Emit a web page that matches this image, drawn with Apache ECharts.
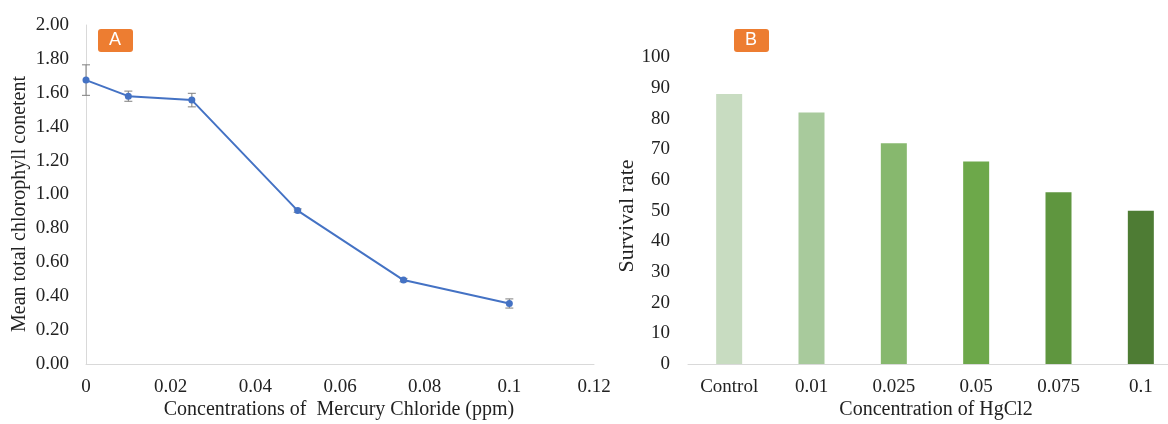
<!DOCTYPE html>
<html>
<head>
<meta charset="utf-8">
<script src="https://cdn.jsdelivr.net/npm/echarts@6/dist/echarts.min.js"></script>
<style>html,body{margin:0;padding:0;background:#fff}#c{width:1168px;height:424px}</style>
</head>
<body>
<div id="c"></div>
<script>
// Panel A
var concA = [0, 0.01, 0.025, 0.05, 0.075, 0.1];
var chlorophyll = [1.675, 1.58, 1.557, 0.905, 0.495, 0.357];
var chlorErr = [0.09, 0.03, 0.04, 0.01, 0.01, 0.027];
// Panel B
var categoriesB = ['Control', '0.01', '0.025', '0.05', '0.075', '0.1'];
var survival = [88, 82, 72, 66, 56, 50];
var barColors = ['#C8DCC1', '#A8CA9C', '#87B86E', '#6DA84A', '#5F963F', '#4E7C34'];

var serif = '"Liberation Serif","Times New Roman",serif';
var chart = echarts.init(document.getElementById('c'));
var lineData = concA.map(function (x, i) { return [x, chlorophyll[i]]; });
var errData = concA.map(function (x, i) { return [x, chlorophyll[i] - chlorErr[i], chlorophyll[i] + chlorErr[i]]; });

chart.setOption({
  animation: false,
  grid: [
    { left: 86, top: 25, width: 508, height: 339, outerBoundsMode: 'none', containLabel: false },
    { left: 688, top: 57.3, width: 494, height: 306.7, outerBoundsMode: 'none', containLabel: false }
  ],
  xAxis: [
    {
      gridIndex: 0, type: 'value', min: 0, max: 0.12, interval: 0.02,
      splitLine: { show: false },
      axisLine: { show: true, lineStyle: { color: '#d9d9d9', width: 1 } },
      axisTick: { show: false },
      axisLabel: { color: '#222', fontFamily: serif, fontSize: 19, margin: 14,
        formatter: function (v) { return +v.toFixed(3) + ''; } }
    },
    {
      gridIndex: 1, type: 'category', data: categoriesB,
      axisLine: { show: true, lineStyle: { color: '#d9d9d9', width: 1 } },
      axisTick: { show: false },
      axisLabel: { color: '#222', fontFamily: serif, fontSize: 19, margin: 14 }
    }
  ],
  yAxis: [
    {
      gridIndex: 0, type: 'value', min: 0, max: 2, interval: 0.2,
      splitLine: { show: false },
      axisLine: { show: true, lineStyle: { color: '#d9d9d9', width: 1 } },
      axisTick: { show: false },
      axisLabel: { color: '#222', fontFamily: serif, fontSize: 19, margin: 17,
        formatter: function (v) { return v.toFixed(2); } }
    },
    {
      gridIndex: 1, type: 'value', min: 0, max: 100, interval: 10,
      splitLine: { show: false },
      axisLine: { show: false },
      axisTick: { show: false },
      axisLabel: { color: '#222', fontFamily: serif, fontSize: 19, margin: 18 }
    }
  ],
  series: [
    {
      type: 'custom', xAxisIndex: 0, yAxisIndex: 0, data: errData, z: 1,
      renderItem: function (params, api) {
        var x = api.value(0);
        var lo = api.coord([x, api.value(1)]);
        var hi = api.coord([x, api.value(2)]);
        var w = 4;
        var st = { stroke: '#7f7f7f', lineWidth: 1 };
        return { type: 'group', children: [
          { type: 'line', shape: { x1: lo[0], y1: lo[1], x2: hi[0], y2: hi[1] }, style: st },
          { type: 'line', shape: { x1: lo[0] - w, y1: lo[1], x2: lo[0] + w, y2: lo[1] }, style: st },
          { type: 'line', shape: { x1: hi[0] - w, y1: hi[1], x2: hi[0] + w, y2: hi[1] }, style: st }
        ] };
      }
    },
    {
      type: 'line', xAxisIndex: 0, yAxisIndex: 0, data: lineData, z: 2,
      symbol: 'circle', symbolSize: 7,
      lineStyle: { color: '#4472C4', width: 2 },
      itemStyle: { color: '#4472C4' }
    },
    {
      type: 'bar', xAxisIndex: 1, yAxisIndex: 1, barWidth: 26,
      data: survival.map(function (v, i) { return { value: v, itemStyle: { color: barColors[i] } }; })
    }
  ],
  graphic: [
    { type: 'rect', left: 98, top: 29, shape: { width: 35, height: 23, r: 3 }, style: { fill: '#ED7D31' } },
    { type: 'text', left: 109, top: 31, style: { text: 'A', fill: '#fff', font: '18px "Liberation Sans", Arial, sans-serif' } },
    { type: 'rect', left: 734, top: 29, shape: { width: 35, height: 23, r: 3 }, style: { fill: '#ED7D31' } },
    { type: 'text', left: 745, top: 31, style: { text: 'B', fill: '#fff', font: '18px "Liberation Sans", Arial, sans-serif' } },
    { type: 'text', x: 20, y: 204, rotation: Math.PI / 2,
      style: { text: 'Mean total chlorophyll conetent', fill: '#222', font: '20px ' + serif, textAlign: 'center', textVerticalAlign: 'middle' } },
    { type: 'text', x: 339, y: 410,
      style: { text: 'Concentrations of  Mercury Chloride (ppm)', fill: '#222', font: '20px ' + serif, textAlign: 'center', textVerticalAlign: 'middle' } },
    { type: 'text', x: 627, y: 216, rotation: Math.PI / 2,
      style: { text: 'Survival rate', fill: '#222', font: '22px ' + serif, textAlign: 'center', textVerticalAlign: 'middle' } },
    { type: 'text', x: 936, y: 410,
      style: { text: 'Concentration of HgCl2', fill: '#222', font: '20px ' + serif, textAlign: 'center', textVerticalAlign: 'middle' } }
  ]
});
</script>
</body>
</html>
